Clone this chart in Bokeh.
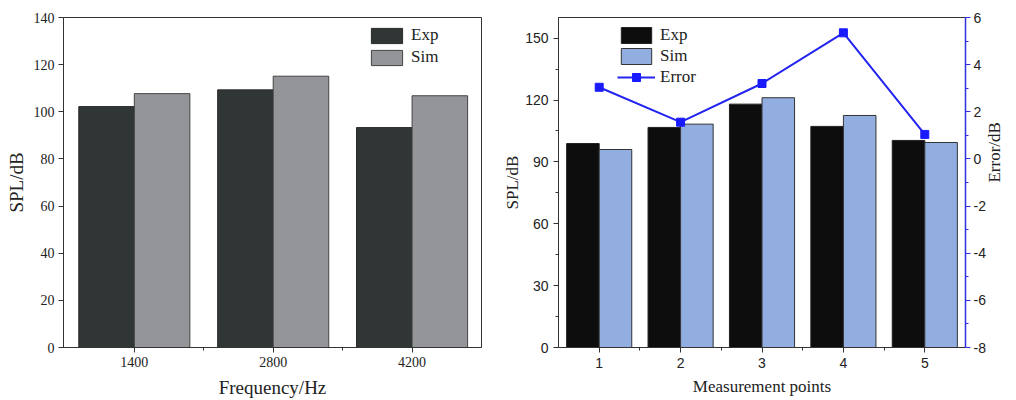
import math
import numpy as np
from bokeh.plotting import figure
from bokeh.layouts import row
from bokeh.models import Range1d, LinearAxis, FixedTicker, Legend, LegendItem
from bokeh.embed import file_html
from bokeh.resources import INLINE

# ---- data: left chart ----
freq_labels = ["1400", "2800", "4200"]
exp_left = [102.2, 109.3, 93.3]
sim_left = [107.7, 115.1, 106.8]

# ---- data: right chart ----
point_labels = ["1", "2", "3", "4", "5"]
exp_right = [98.9, 106.7, 118.0, 107.2, 100.4]
sim_right = [96.0, 108.3, 121.1, 112.5, 99.4]
error_right = [3.04, 1.56, 3.2, 5.35, 1.04]
error_ticks = [-8, -6, -4, -2, 0, 2, 4, 6]

SERIF = "Liberation Serif"
SANS = "Liberation Sans"
FRAME = "#333333"

def style_axis(ax, tick_font, label_size="17px"):
    ax.axis_label_text_font = SERIF
    ax.axis_label_text_font_style = "normal"
    ax.axis_label_text_font_size = label_size
    ax.axis_label_text_color = "#222222"
    ax.major_label_text_font = tick_font
    ax.major_label_text_font_size = "14px"
    ax.major_label_text_color = "#222222"
    ax.major_tick_in = 0
    ax.major_tick_out = 5
    ax.minor_tick_in = 0
    ax.minor_tick_out = 3
    ax.axis_line_color = FRAME
    ax.major_tick_line_color = FRAME
    ax.minor_tick_line_color = FRAME

# ================= left figure =================
xl = np.arange(1, len(freq_labels) + 1)
p1 = figure(width=490, height=400, output_backend="svg", toolbar_location=None,
            x_range=Range1d(0.49, 3.5), y_range=Range1d(0, 140),
            min_border_left=63, min_border_right=9, min_border_top=15, min_border_bottom=48)
p1.background_fill_color = "white"
p1.border_fill_color = "white"
p1.outline_line_color = FRAME
p1.outline_line_width = 1
p1.xgrid.visible = False
p1.ygrid.visible = False

r_exp_l = p1.vbar(x=xl - 0.2, top=exp_left, width=0.4, fill_color="#303636",
                  line_color="#2a2a2a", line_width=1)
r_sim_l = p1.vbar(x=xl + 0.2, top=sim_left, width=0.4, fill_color="#939598",
                  line_color="#444444", line_width=1)

p1.xaxis.ticker = FixedTicker(ticks=list(xl), minor_ticks=[1.5, 2.5])
p1.xaxis.major_label_overrides = {int(i): lab for i, lab in zip(xl, freq_labels)}
p1.yaxis.ticker = FixedTicker(ticks=list(range(0, 141, 20)), minor_ticks=[])
p1.xaxis.axis_label = "Frequency/Hz"
p1.yaxis.axis_label = "SPL/dB"
style_axis(p1.xaxis[0], SERIF, "19px")
style_axis(p1.yaxis[0], SERIF, "19px")
p1.xaxis.major_label_standoff = 4
p1.xaxis.axis_label_standoff = 7
p1.yaxis.major_label_standoff = 4
p1.yaxis.axis_label_standoff = 4

leg1 = Legend(items=[LegendItem(label="Exp", renderers=[r_exp_l]),
                     LegendItem(label="Sim", renderers=[r_sim_l])],
              location=(304, 280))
leg1.padding = 0
leg1.margin = 0
leg1.spacing = 2
leg1.glyph_width = 39
leg1.glyph_height = 19
leg1.label_height = 19
leg1.label_standoff = 5
leg1.label_text_font = SERIF
leg1.label_text_font_size = "17px"
leg1.label_text_color = "#222222"
leg1.border_line_alpha = 0
leg1.background_fill_alpha = 0
p1.add_layout(leg1, "center")

# ================= right figure =================
xr = np.arange(1, len(point_labels) + 1)
p2 = figure(width=526, height=400, output_backend="svg", toolbar_location=None,
            x_range=Range1d(0.5, 5.5), y_range=Range1d(0, 160),
            min_border_left=68, min_border_right=49, min_border_top=17, min_border_bottom=53)
p2.background_fill_color = "white"
p2.border_fill_color = "white"
p2.outline_line_color = FRAME
p2.xgrid.visible = False
p2.ygrid.visible = False
p2.extra_y_ranges = {"err": Range1d(-8, 6)}

r_exp_r = p2.vbar(x=xr - 0.2, top=exp_right, width=0.4, fill_color="#0d0d0d",
                  line_color="#222222", line_width=1)
r_sim_r = p2.vbar(x=xr + 0.2, top=sim_right, width=0.4, fill_color="#92aee0",
                  line_color="#333333", line_width=1)
r_err_l = p2.line(x=xr, y=error_right, line_color="#2424f0", line_width=2, y_range_name="err")
r_err_m = p2.scatter(x=xr, y=error_right, marker="square", size=8, fill_color="#1a1aff",
                     line_color="#1a1aff", y_range_name="err")

p2.xaxis.ticker = FixedTicker(ticks=list(xr), minor_ticks=[1.5, 2.5, 3.5, 4.5])
p2.xaxis.major_label_overrides = {int(i): lab for i, lab in zip(xr, point_labels)}
p2.yaxis.ticker = FixedTicker(ticks=list(range(0, 151, 30)), minor_ticks=list(range(15, 160, 30)))
p2.xaxis.axis_label = "Measurement points"
p2.yaxis.axis_label = "SPL/dB"
style_axis(p2.xaxis[0], SANS)
style_axis(p2.yaxis[0], SANS)
p2.xaxis.major_label_standoff = 5
p2.xaxis.axis_label_standoff = 6
p2.yaxis.major_label_standoff = 5
p2.yaxis.axis_label_standoff = 0

ax_err = LinearAxis(y_range_name="err", axis_label="Error/dB",
                    ticker=FixedTicker(ticks=error_ticks, minor_ticks=[t + 1 for t in error_ticks[:-1]]))
ax_err.major_label_overrides = {t: str(t) for t in error_ticks}
style_axis(ax_err, SANS)
ax_err.axis_line_color = "#3030e0"
ax_err.axis_line_width = 1.5
ax_err.major_tick_line_color = "#3030e0"
ax_err.minor_tick_line_color = "#3030e0"
ax_err.major_label_standoff = 3
ax_err.axis_label_standoff = 6
ax_err.axis_label_orientation = math.pi / 2
p2.add_layout(ax_err, "right")

leg2 = Legend(items=[LegendItem(label="Exp", renderers=[r_exp_r]),
                     LegendItem(label="Sim", renderers=[r_sim_r]),
                     LegendItem(label="Error", renderers=[r_err_l, r_err_m])],
              location=(59, 260))
leg2.padding = 0
leg2.margin = 0
leg2.spacing = 1
leg2.glyph_width = 38
leg2.glyph_height = 20
leg2.label_height = 20
leg2.label_standoff = 5
leg2.label_text_font = SERIF
leg2.label_text_font_size = "17px"
leg2.label_text_color = "#222222"
leg2.border_line_alpha = 0
leg2.background_fill_alpha = 0
p2.add_layout(leg2, "center")

layout = row(p1, p2)
open("out.html", "w").write(file_html(layout, INLINE))
